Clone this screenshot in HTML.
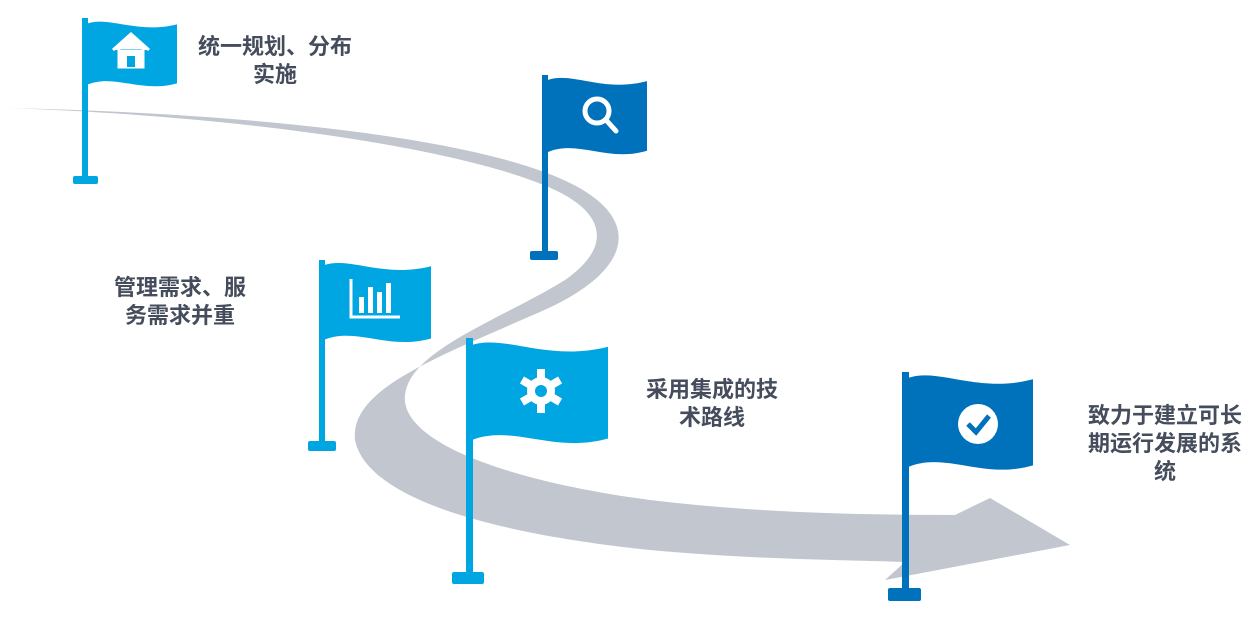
<!DOCTYPE html>
<html><head><meta charset="utf-8"><style>
body{margin:0;width:1258px;height:621px;background:#fff;overflow:hidden;position:relative;font-family:"Liberation Sans","Noto Sans CJK SC",sans-serif}
.t{position:absolute;color:#454d5c;font-weight:bold;font-size:22px;line-height:28px;text-align:center;white-space:nowrap;letter-spacing:0}
svg{position:absolute;left:0;top:0}
</style></head><body>
<svg width="1258" height="621" viewBox="0 0 1258 621">
<path fill="#c1c6cf" d="M5,108 C250,113 480,138 570,183 C645,220 632,272 540,312 C430,360 350,390 355,440 C365,490 460,530 650,550 C760,560 850,560 905,562 L885,580 L1070,545 L990,498 L955,515 C850,515 750,512 650,500 C500,480 400,440 405,395 C410,350 500,320 565,280 C615,245 602,212 555,190 C470,150 250,116 5,108 Z"/>
<defs>
<path id="fl" d="M0,5 C25,-6 55,20 100,6 L100,88 C60,102 30,74 0,90 Z"/>
</defs>
<g>
<rect x="82" y="18" width="6" height="162" fill="#00a6e2"/>
<rect x="73" y="176" width="25" height="8" rx="2" fill="#00a6e2"/>
<g transform="translate(87,20) scale(0.9,0.72)"><use href="#fl" fill="#00a6e2"/></g>
<path d="M113,50 L131,34 L149,50 M119,48 V67 H143 V48 Z" fill="#fff" stroke="#fff" stroke-width="3"/>
<rect x="127" y="56" width="8" height="11" fill="#00a6e2"/>
</g>
<g>
<rect x="542" y="75" width="6" height="180" fill="#0071bb"/>
<rect x="530" y="251" width="28" height="9" rx="2" fill="#0071bb"/>
<g transform="translate(547,76) scale(1.0,0.85)"><use href="#fl" fill="#0071bb"/></g>
<circle cx="597" cy="111" r="12" fill="none" stroke="#fff" stroke-width="5"/>
<line x1="606" y1="120" x2="616" y2="131" stroke="#fff" stroke-width="5" stroke-linecap="round"/>
</g>
<g>
<rect x="319" y="260" width="6" height="185" fill="#00a6e2"/>
<rect x="308" y="441" width="28" height="10" rx="2" fill="#00a6e2"/>
<g transform="translate(323,261) scale(1.08,0.88)"><use href="#fl" fill="#00a6e2"/></g>
<path d="M351,279 V317 H400" fill="none" stroke="#fff" stroke-width="3"/>
<rect x="359" y="297" width="5" height="16" fill="#fff"/>
<rect x="368" y="287" width="5" height="26" fill="#fff"/>
<rect x="377" y="292" width="5" height="21" fill="#fff"/>
<rect x="386" y="283" width="5" height="30" fill="#fff"/>
</g>
<g>
<rect x="466" y="338" width="7" height="240" fill="#00a6e2"/>
<rect x="452" y="572" width="32" height="12" rx="2" fill="#00a6e2"/>
<g transform="translate(470,340) scale(1.38,1.12)"><use href="#fl" fill="#00a6e2"/></g>
<g transform="translate(541,391)" fill="#fff">
<circle r="14"/>
<rect x="-4" y="-22" width="8" height="44"/>
<rect x="-4" y="-22" width="8" height="44" transform="rotate(60)"/>
<rect x="-4" y="-22" width="8" height="44" transform="rotate(120)"/>
<circle r="6" fill="#00a6e2"/>
</g>
</g>
<g>
<rect x="902" y="372" width="7" height="222" fill="#0071bb"/>
<rect x="888" y="588" width="33" height="13" rx="2" fill="#0071bb"/>
<g transform="translate(907,373) scale(1.26,1.05)"><use href="#fl" fill="#0071bb"/></g>
<circle cx="978" cy="424" r="20" fill="#fff"/>
<path d="M968,424 L976,432 L989,416" fill="none" stroke="#0071bb" stroke-width="5"/>
</g>
</svg>
<div class="t" style="left:185px;top:33px;width:180px">统一规划、分布<br>实施</div>
<div class="t" style="left:95px;top:274px;width:170px">管理需求、服<br>务需求并重</div>
<div class="t" style="left:632px;top:376px;width:160px">采用集成的技<br>术路线</div>
<div class="t" style="left:1075px;top:402px;width:180px">致力于建立可长<br>期运行发展的系<br>统</div>
</body></html>
